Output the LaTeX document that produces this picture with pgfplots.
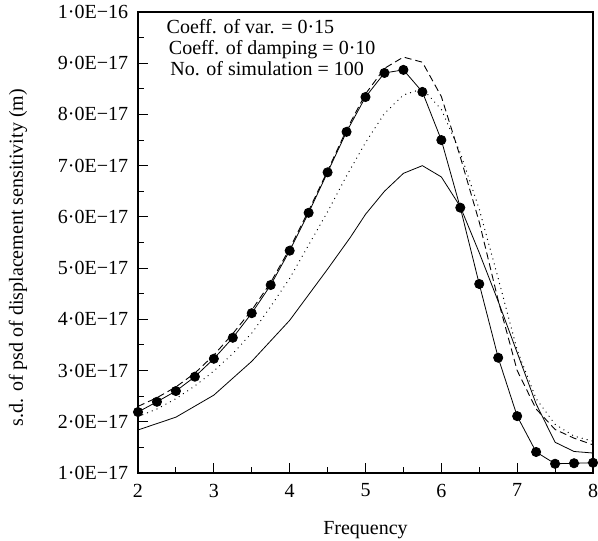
\documentclass[border=0pt]{standalone}
\usepackage{fontspec}
\setmainfont{Liberation Serif}
\usepackage{pgfplots}
\usepackage{pgfplotstable}
\pgfplotsset{compat=1.18}

\pgfplotstableread{
x y
2 2.19e-17
2.25 2.39e-17
2.5 2.60e-17
2.75 2.88e-17
3 3.23e-17
3.25 3.64e-17
3.5 4.12e-17
3.75 4.67e-17
4 5.34e-17
4.25 6.08e-17
4.5 6.87e-17
4.75 7.66e-17
5 8.34e-17
5.25 8.81e-17
5.5 8.87e-17
5.75 8.44e-17
6 7.50e-17
6.25 6.18e-17
6.5 4.69e-17
6.75 3.25e-17
7 2.11e-17
7.25 1.41e-17
7.5 1.18e-17
7.75 1.19e-17
8 1.20e-17
}\markdata

\pgfplotstableread{
x y
2 2.30e-17
2.25 2.47e-17
2.5 2.68e-17
2.75 2.95e-17
3 3.30e-17
3.25 3.72e-17
3.5 4.18e-17
3.75 4.72e-17
4 5.38e-17
4.25 6.12e-17
4.5 6.90e-17
4.75 7.70e-17
5 8.40e-17
5.25 8.90e-17
5.5 9.12e-17
5.75 9.02e-17
6 8.35e-17
6.25 7.17e-17
6.5 5.90e-17
6.75 4.37e-17
7 3.00e-17
7.25 2.25e-17
7.5 1.85e-17
7.75 1.68e-17
8 1.55e-17
}\dasheddata

\pgfplotstableread{
x y
2 2.10e-17
2.25 2.25e-17
2.5 2.45e-17
2.75 2.70e-17
3 2.99e-17
3.25 3.33e-17
3.5 3.73e-17
3.75 4.25e-17
4 4.80e-17
4.25 5.45e-17
4.5 6.10e-17
4.75 6.80e-17
5 7.45e-17
5.25 8.02e-17
5.5 8.38e-17
5.75 8.50e-17
6 8.10e-17
6.25 7.25e-17
6.5 6.15e-17
6.75 4.80e-17
7 3.40e-17
7.25 2.45e-17
7.5 1.95e-17
7.75 1.72e-17
8 1.62e-17
}\dotteddata

\pgfplotstableread{
x y
2 1.84e-17
2.5 2.09e-17
3 2.52e-17
3.5 3.18e-17
4 3.98e-17
4.5 4.98e-17
4.8 5.60e-17
5 6.05e-17
5.25 6.50e-17
5.5 6.85e-17
5.75 7.00e-17
6 6.78e-17
6.25 6.20e-17
6.5 5.30e-17
6.75 4.35e-17
7 3.35e-17
7.25 2.35e-17
7.5 1.60e-17
7.75 1.42e-17
8 1.39e-17
}\soliddata

\begin{document}
\fontsize{20bp}{24bp}\selectfont
\begin{tikzpicture}
\begin{axis}[
  scale only axis,
  width=455bp, height=461bp,
  xmin=2, xmax=8, ymin=1e-17, ymax=1e-16,
  xtick={2,3,4,5,6,7,8},
  ytick={1e-17,2e-17,3e-17,4e-17,5e-17,6e-17,7e-17,8e-17,9e-17,1e-16},
  yticklabels={1·0E−17,2·0E−17,3·0E−17,4·0E−17,5·0E−17,6·0E−17,7·0E−17,8·0E−17,9·0E−17,1·0E−16},
  scaled y ticks=false,
  minor x tick num=1, minor y tick num=1,
  tick align=inside, tick pos=left,
  major tick length=10bp, minor tick length=6bp,
  every tick/.style={black, line width=0.9pt},
  axis line style={line width=1.1pt},
  /pgf/number format/assume math mode=true,
  yticklabel style={xshift=-3bp},
  xticklabel style={yshift=-4bp},
  xlabel={Frequency},
  ylabel={s.d. of psd of displacement sensitivity (m)},
  xlabel style={at={(axis description cs:0.5,0)}, anchor=base, yshift=-62bp},
  ylabel style={at={(axis description cs:-0.253,0.467)}, anchor=base},
  clip mode=individual,
]
\addplot[black, line width=0.8pt] table[x=x,y=y] {\soliddata};
\addplot[black, line width=0.9pt, dash pattern=on 7bp off 4bp] table[x=x,y=y] {\dasheddata};
\addplot[black, line width=1.3pt, line cap=round, dash pattern=on 0.1bp off 5bp] table[x=x,y=y] {\dotteddata};
\addplot[black, line width=0.8pt, mark=*, mark size=4.6bp, mark options={solid, fill=black}] table[x=x,y=y] {\markdata};
\node[anchor=base west] at (rel axis cs:0.048,0.954) {Coeff. of var. = 0·15};
\node[anchor=base west] at (rel axis cs:0.053,0.908) {Coeff. of damping = 0·10};
\node[anchor=base west] at (rel axis cs:0.056,0.862) {No. of simulation = 100};
\end{axis}
\pgfresetboundingbox
\useasboundingbox ([shift={(-138bp,-68bp)}]current axis.south west) rectangle ([shift={(5bp,12bp)}]current axis.north east);
\end{tikzpicture}
\end{document}
